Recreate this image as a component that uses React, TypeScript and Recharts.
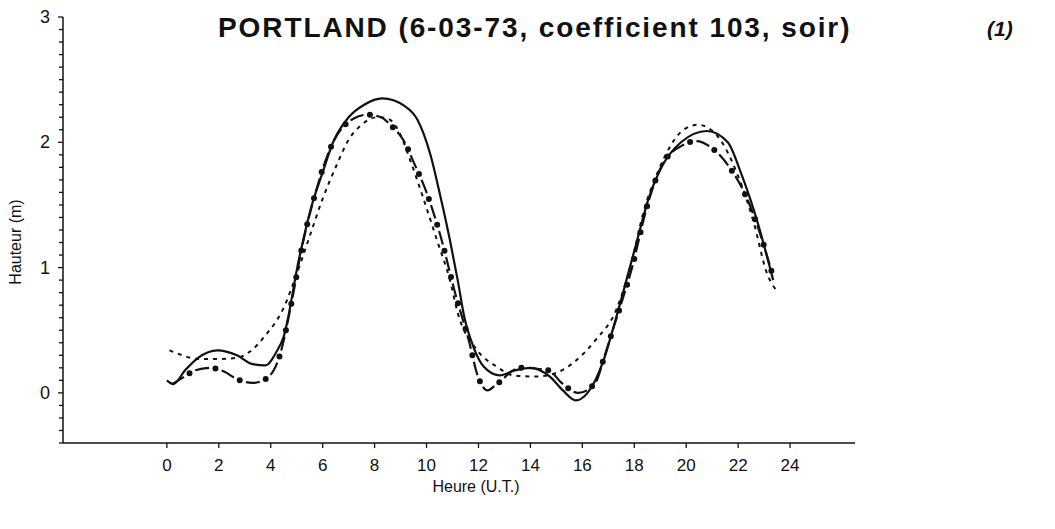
import React from "react";
import { LineChart, Line, XAxis, YAxis } from "recharts";

// hauteurs (heure U.T., hauteur en m)
const solidCurve = [
  { h: 0.0, v: 0.1 }, { h: 0.25, v: 0.07 }, { h: 0.7, v: 0.18 }, { h: 1.2, v: 0.28 },
  { h: 1.95, v: 0.34 }, { h: 2.7, v: 0.3 }, { h: 3.3, v: 0.23 }, { h: 3.8, v: 0.22 },
  { h: 4.2, v: 0.32 }, { h: 4.5, v: 0.45 }, { h: 5.08, v: 1.06 }, { h: 5.57, v: 1.49 },
  { h: 6.0, v: 1.76 }, { h: 6.4, v: 2.0 }, { h: 7.0, v: 2.2 }, { h: 7.6, v: 2.3 },
  { h: 8.3, v: 2.35 }, { h: 9.15, v: 2.29 }, { h: 9.65, v: 2.18 }, { h: 10.15, v: 1.9 },
  { h: 10.5, v: 1.6 }, { h: 10.9, v: 1.22 }, { h: 11.2, v: 0.9 }, { h: 11.45, v: 0.61 },
  { h: 11.8, v: 0.37 }, { h: 12.2, v: 0.21 }, { h: 12.8, v: 0.14 }, { h: 13.4, v: 0.18 },
  { h: 14.0, v: 0.2 }, { h: 14.75, v: 0.13 }, { h: 15.25, v: 0.02 }, { h: 15.75, v: -0.06 },
  { h: 16.2, v: 0.0 }, { h: 16.8, v: 0.25 }, { h: 17.3, v: 0.6 }, { h: 18.05, v: 1.17 },
  { h: 18.55, v: 1.55 }, { h: 19.1, v: 1.82 }, { h: 19.8, v: 2.0 }, { h: 20.8, v: 2.09 },
  { h: 21.6, v: 2.0 }, { h: 22.1, v: 1.76 }, { h: 22.75, v: 1.36 }, { h: 23.35, v: 0.9 },
];

const dashDotCurve = [
  { h: 0.2, v: 0.07 }, { h: 0.6, v: 0.12 }, { h: 1.1, v: 0.18 }, { h: 1.7, v: 0.2 },
  { h: 2.2, v: 0.17 }, { h: 2.7, v: 0.11 }, { h: 3.3, v: 0.08 }, { h: 3.8, v: 0.11 },
  { h: 4.35, v: 0.3 }, { h: 4.8, v: 0.72 }, { h: 5.2, v: 1.16 }, { h: 5.7, v: 1.58 },
  { h: 6.4, v: 2.0 }, { h: 7.2, v: 2.19 }, { h: 7.7, v: 2.22 }, { h: 8.25, v: 2.2 },
  { h: 8.6, v: 2.14 }, { h: 9.1, v: 2.02 }, { h: 9.55, v: 1.82 }, { h: 10.0, v: 1.6 },
  { h: 10.5, v: 1.28 }, { h: 11.15, v: 0.76 }, { h: 11.6, v: 0.44 }, { h: 12.0, v: 0.12 },
  { h: 12.35, v: 0.02 }, { h: 12.65, v: 0.06 }, { h: 13.6, v: 0.2 }, { h: 14.7, v: 0.18 },
  { h: 15.2, v: 0.08 }, { h: 15.85, v: 0.0 }, { h: 16.5, v: 0.08 }, { h: 16.85, v: 0.29 },
  { h: 17.2, v: 0.52 }, { h: 17.9, v: 0.99 }, { h: 18.55, v: 1.53 }, { h: 19.05, v: 1.81 },
  { h: 19.9, v: 1.98 }, { h: 20.4, v: 2.01 }, { h: 20.95, v: 1.96 }, { h: 21.6, v: 1.82 },
  { h: 22.3, v: 1.57 }, { h: 22.7, v: 1.36 }, { h: 23.3, v: 0.96 },
];

const dottedCurve = [
  { h: 0.1, v: 0.34 }, { h: 0.6, v: 0.3 }, { h: 1.2, v: 0.27 }, { h: 2.0, v: 0.27 },
  { h: 2.7, v: 0.28 }, { h: 3.2, v: 0.33 }, { h: 3.8, v: 0.46 }, { h: 4.5, v: 0.68 },
  { h: 5.0, v: 0.95 }, { h: 5.5, v: 1.25 }, { h: 6.0, v: 1.55 }, { h: 6.5, v: 1.8 },
  { h: 7.0, v: 2.02 }, { h: 7.5, v: 2.14 }, { h: 8.1, v: 2.2 }, { h: 8.5, v: 2.19 },
  { h: 8.9, v: 2.1 }, { h: 9.4, v: 1.84 }, { h: 9.85, v: 1.57 }, { h: 10.4, v: 1.22 },
  { h: 10.9, v: 0.9 }, { h: 11.2, v: 0.64 }, { h: 11.95, v: 0.34 }, { h: 12.7, v: 0.21 },
  { h: 13.35, v: 0.14 }, { h: 14.2, v: 0.13 }, { h: 15.0, v: 0.16 }, { h: 15.65, v: 0.24 },
  { h: 16.5, v: 0.42 }, { h: 17.3, v: 0.66 }, { h: 17.95, v: 1.09 }, { h: 18.35, v: 1.44 },
  { h: 18.9, v: 1.76 }, { h: 19.9, v: 2.1 }, { h: 20.45, v: 2.14 }, { h: 21.2, v: 2.05 },
  { h: 22.0, v: 1.73 }, { h: 22.6, v: 1.36 }, { h: 23.1, v: 0.96 }, { h: 23.5, v: 0.81 },
];

const hourTicks = [0, 2, 4, 6, 8, 10, 12, 14, 16, 18, 20, 22, 24];
const heightTicks = [
  -0.4, -0.3, -0.2, -0.1, 0, 0.1, 0.2, 0.3, 0.4, 0.5, 0.6, 0.7, 0.8, 0.9,
  1, 1.1, 1.2, 1.3, 1.4, 1.5, 1.6, 1.7, 1.8, 1.9, 2, 2.1, 2.2, 2.3, 2.4, 2.5, 2.6,
  2.7, 2.8, 2.9, 3,
];

const INK = "#111";
const FONT = "'Liberation Sans', Arial, Helvetica, sans-serif";

const YTick = (props: any) => {
  const { x, y, payload } = props;
  const val = payload.value;
  const major = Math.abs(val - Math.round(val)) < 1e-6;
  return (
    <g>
      <line x1={x} x2={x - (major ? 5 : 4)} y1={y} y2={y} stroke={INK} strokeWidth={1.3} />
      {major && (
        <text x={x - 18} y={y} textAnchor="middle" dominantBaseline="central"
          fontSize={18} fontFamily={FONT} fill={INK}>
          {Math.round(val)}
        </text>
      )}
    </g>
  );
};

const XTick = (props: any) => {
  const { x, y, payload } = props;
  return (
    <g>
      <line x1={x} x2={x} y1={y} y2={y + 5} stroke={INK} strokeWidth={1.3} />
      <text x={x} y={y + 22} textAnchor="middle" dominantBaseline="central"
        fontSize={17} fontFamily={FONT} fill={INK}>
        {payload.value}
      </text>
    </g>
  );
};

const HeightLabel = () => (
  <text x={15} y={242} transform="rotate(-90 15 242)" textAnchor="middle"
    dominantBaseline="central" fontSize={16} fontFamily={FONT} fill={INK}>
    Hauteur (m)
  </text>
);

const HourLabel = () => (
  <text x={476} y={486} textAnchor="middle" dominantBaseline="central"
    fontSize={16} fontFamily={FONT} fill={INK}>
    Heure (U.T.)
  </text>
);

export default function App() {
  return (
    <div style={{ position: "relative", width: 1055, height: 529, background: "#fff" }}>
      <style>{"body{margin:0;background:#fff}"}</style>
      <div style={{
        position: "absolute", left: 218, top: 12, whiteSpace: "nowrap",
        fontFamily: FONT, fontWeight: "bold", fontSize: 28, letterSpacing: 1.9, color: INK,
      }}>
        PORTLAND (6-03-73, coefficient 103, soir)
      </div>
      <div style={{
        position: "absolute", left: 987, top: 17, fontFamily: FONT, fontWeight: "bold",
        fontStyle: "italic", fontSize: 21, color: INK,
      }}>
        (1)
      </div>
      <LineChart width={1055} height={529} margin={{ top: 17, right: 200, bottom: 0, left: 0 }}>
        <XAxis
          type="number"
          dataKey="h"
          domain={[-4, 26.5]}
          ticks={hourTicks}
          allowDataOverflow
          height={86}
          tickLine={false}
          tickSize={0}
          tickMargin={0}
          tick={<XTick />}
          axisLine={{ stroke: INK, strokeWidth: 1.5 }}
          label={<HourLabel />}
        />
        <YAxis
          type="number"
          dataKey="v"
          domain={[-0.4, 3]}
          ticks={heightTicks}
          interval={0}
          allowDataOverflow
          width={63}
          tickLine={false}
          tickSize={0}
          tickMargin={0}
          tick={<YTick />}
          axisLine={{ stroke: INK, strokeWidth: 1.5 }}
          label={<HeightLabel />}
        />
        <Line data={solidCurve} dataKey="v" type="monotone" stroke={INK} strokeWidth={2.2}
          dot={false} activeDot={false} isAnimationActive={false} />
        <Line data={dottedCurve} dataKey="v" type="monotone" stroke={INK} strokeWidth={2}
          strokeDasharray="4 5" dot={false} activeDot={false} isAnimationActive={false} />
        <Line data={dashDotCurve} dataKey="v" type="monotone" stroke={INK} strokeWidth={2.2}
          strokeDasharray="14 13" dot={false} activeDot={false} isAnimationActive={false} />
        <Line data={dashDotCurve} dataKey="v" type="monotone" stroke={INK} strokeWidth={6}
          strokeLinecap="round" strokeDasharray="0 27" strokeDashoffset={6.5}
          dot={false} activeDot={false} isAnimationActive={false} />
      </LineChart>
    </div>
  );
}
